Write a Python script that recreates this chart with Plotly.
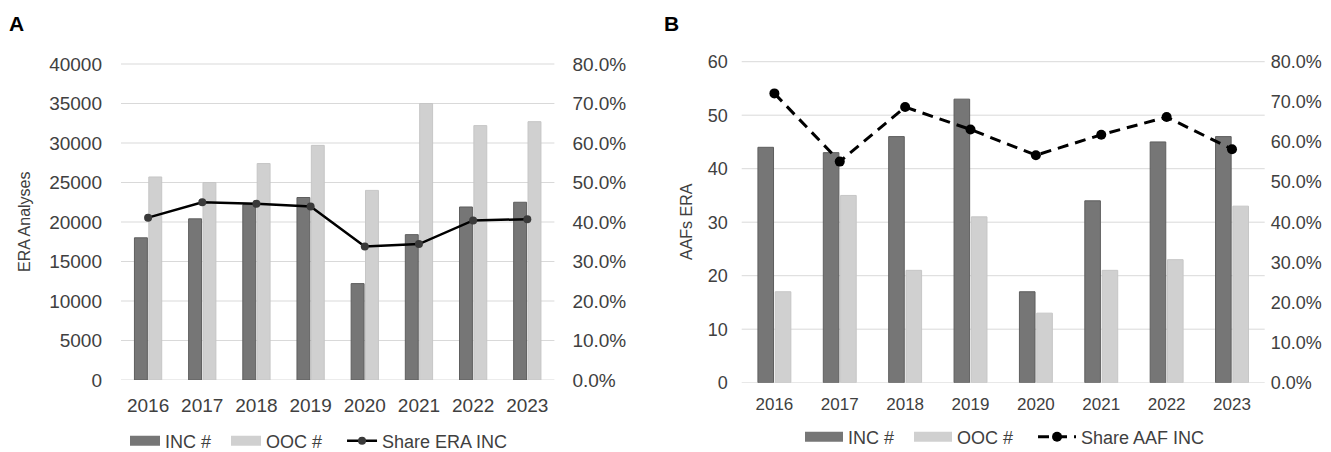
import plotly.graph_objects as go

years = ["2016", "2017", "2018", "2019", "2020", "2021", "2022", "2023"]

# Panel A: ERA analyses
era_inc = [18000, 20400, 22200, 23100, 12200, 18400, 21900, 22500]
era_ooc = [25700, 25000, 27400, 29700, 24000, 35000, 32200, 32700]
era_share_pct = [41.1, 45.0, 44.6, 43.9, 33.8, 34.4, 40.4, 40.7]

# Panel B: AAFs ERA
aaf_inc = [44, 43, 46, 53, 17, 34, 45, 46]
aaf_ooc = [17, 35, 21, 31, 13, 21, 23, 33]
aaf_share_pct = [72.1, 55.1, 68.7, 63.1, 56.7, 61.8, 66.2, 58.2]

# axis tick values
a_ticks = [0, 5000, 10000, 15000, 20000, 25000, 30000, 35000, 40000]
b_ticks = [0, 10, 20, 30, 40, 50, 60]

W, H = 1331, 452
TXT = "#404040"
INC_C = "#767676"
INC_L = "#5e5e5e"
OOC_C = "#d0d0d0"
OOC_L = "#c6c6c6"
GRID = "#d9d9d9"
FONT = "Liberation Sans, Arial, sans-serif"
NB = "\u00a0"

A_MAX, B_MAX, P_MAX = 40000, 60, 0.8

# plot-area pixel geometry
A_X0, A_X1, A_TOP, A_BOT = 121, 554.4, 64, 380
B_X0, B_X1, B_TOP, B_BOT = 741.7, 1264.7, 61.7, 382.7
PAD = 3  # headroom (px) so that the top gridline is fully inside the plot area
EPS_A = 1 + PAD / (A_BOT - A_TOP)
EPS_B = 1 + PAD / (B_BOT - B_TOP)

def px(x):
    return x / W

def py(y):
    return 1 - y / H

fig = go.Figure()

# ---- Panel A ----
fig.add_trace(go.Bar(x=years, y=era_inc, name="INC #", marker=dict(color=INC_C, line=dict(color=INC_L, width=1)),
                     xaxis="x", yaxis="y", showlegend=False))
fig.add_trace(go.Bar(x=years, y=era_ooc, name="OOC #", marker=dict(color=OOC_C, line=dict(color=OOC_L, width=1)),
                     xaxis="x", yaxis="y", showlegend=False))
fig.add_trace(go.Scatter(x=[None], y=[None], mode="lines", name="INC #" + NB * 2, line=dict(color=INC_C, width=12),
                         xaxis="x", yaxis="y", legend="legend"))
fig.add_trace(go.Scatter(x=[None], y=[None], mode="lines", name="OOC #" + NB * 3, line=dict(color=OOC_C, width=12),
                         xaxis="x", yaxis="y", legend="legend"))
fig.add_trace(go.Scatter(x=years, y=[v / 100 for v in era_share_pct], mode="lines+markers", name="Share ERA INC",
                         line=dict(color="#000000", width=2.5),
                         marker=dict(color="#3a3a3a", size=8),
                         xaxis="x", yaxis="y2", legend="legend"))

# ---- Panel B ----
fig.add_trace(go.Bar(x=years, y=aaf_inc, name="INC #", marker=dict(color=INC_C, line=dict(color=INC_L, width=1)),
                     xaxis="x2", yaxis="y3", showlegend=False))
fig.add_trace(go.Bar(x=years, y=aaf_ooc, name="OOC #", marker=dict(color=OOC_C, line=dict(color=OOC_L, width=1)),
                     xaxis="x2", yaxis="y3", showlegend=False))
fig.add_trace(go.Scatter(x=[None], y=[None], mode="lines", name="INC #" + NB * 2, line=dict(color=INC_C, width=12),
                         xaxis="x2", yaxis="y3", legend="legend2"))
fig.add_trace(go.Scatter(x=[None], y=[None], mode="lines", name="OOC #" + NB * 3, line=dict(color=OOC_C, width=12),
                         xaxis="x2", yaxis="y3", legend="legend2"))
fig.add_trace(go.Scatter(x=years, y=[v / 100 for v in aaf_share_pct], mode="lines+markers", name="Share AAF INC",
                         line=dict(color="#000000", width=3, dash="11px,7px"),
                         marker=dict(color="#000000", size=10),
                         xaxis="x2", yaxis="y4", legend="legend2"))

# gridlines drawn from the tick values (below the bars)
grid_shapes = []
for v in a_ticks:
    grid_shapes.append(dict(type="line", xref="x domain", x0=0, x1=1, yref="y", y0=v, y1=v,
                            line=dict(color=GRID, width=1), layer="below"))
for v in b_ticks:
    grid_shapes.append(dict(type="line", xref="x2 domain", x0=0, x1=1, yref="y3", y0=v, y1=v,
                            line=dict(color=GRID, width=1), layer="below"))

axA_font = dict(family=FONT, size=19, color=TXT)
axB_font = dict(family=FONT, size=18, color=TXT)

fig.update_layout(
    width=W, height=H,
    margin=dict(l=0, r=0, t=0, b=0, autoexpand=False),
    paper_bgcolor="white", plot_bgcolor="white",
    font=dict(family=FONT, color=TXT),
    barmode="group", bargap=0.47, bargroupgap=0.1,
    showlegend=True,
    shapes=grid_shapes,
    xaxis=dict(domain=[px(A_X0), px(A_X1)], anchor="y", type="category", categoryorder="array",
               categoryarray=years, showgrid=False, zeroline=False, ticks="", showline=False,
               tickfont=axA_font, ticklabelstandoff=12, automargin=False),
    yaxis=dict(domain=[py(A_BOT), py(A_TOP - PAD)], anchor="x", range=[0, A_MAX * EPS_A],
               tickmode="array", tickvals=a_ticks, tickformat="d",
               showgrid=False, zeroline=False,
               showline=False, ticks="", tickfont=axA_font, ticklabelstandoff=18, automargin=False),
    yaxis2=dict(overlaying="y", anchor="x", side="right", range=[0, P_MAX * EPS_A], dtick=0.1, tick0=0,
                tickformat=".1%", showgrid=False, zeroline=False, showline=False, ticks="",
                tickfont=axA_font, ticklabelstandoff=17, automargin=False),
    xaxis2=dict(domain=[px(B_X0), px(B_X1)], anchor="y3", type="category", categoryorder="array",
                categoryarray=years, showgrid=False, zeroline=False, ticks="", showline=False,
                tickfont=dict(family=FONT, size=17, color=TXT), ticklabelstandoff=9, automargin=False),
    yaxis3=dict(domain=[py(B_BOT), py(B_TOP - PAD)], anchor="x2", range=[0, B_MAX * EPS_B],
                tickmode="array", tickvals=b_ticks,
                showgrid=False, zeroline=False,
                showline=False, ticks="", tickfont=axB_font, ticklabelstandoff=13, automargin=False),
    yaxis4=dict(overlaying="y3", anchor="x2", side="right", range=[0, P_MAX * EPS_B], dtick=0.1, tick0=0,
                tickformat=".1%", showgrid=False, zeroline=False, showline=False, ticks="",
                tickfont=axB_font, ticklabelstandoff=5, automargin=False),
    legend=dict(orientation="h", x=px(125), y=py(441), xanchor="left", yanchor="middle",
                font=dict(family=FONT, size=18, color=TXT), itemwidth=30, bgcolor="rgba(0,0,0,0)",
                traceorder="normal"),
    legend2=dict(orientation="h", x=px(800), y=py(437), xanchor="left", yanchor="middle",
                 font=dict(family=FONT, size=18, color=TXT), itemwidth=38, bgcolor="rgba(0,0,0,0)",
                 traceorder="normal"),
    annotations=[
        dict(text="<b>A</b>", x=px(7), y=py(24), xref="paper", yref="paper", xanchor="left", yanchor="middle",
             showarrow=False, font=dict(family=FONT, size=21, color="#000000")),
        dict(text="<b>B</b>", x=px(662), y=py(24), xref="paper", yref="paper", xanchor="left", yanchor="middle",
             showarrow=False, font=dict(family=FONT, size=21, color="#000000")),
        dict(text="ERA Analyses", x=px(24), y=py(222), xref="paper", yref="paper", xanchor="center",
             yanchor="middle", textangle=-90, showarrow=False, font=dict(family=FONT, size=16, color=TXT)),
        dict(text="AAFs ERA", x=px(686), y=py(222), xref="paper", yref="paper", xanchor="center",
             yanchor="middle", textangle=-90, showarrow=False, font=dict(family=FONT, size=16, color=TXT)),
    ],
)

fig.write_html("out.html", config={"displayModeBar": False},
               post_script="document.body.style.margin='0';")
